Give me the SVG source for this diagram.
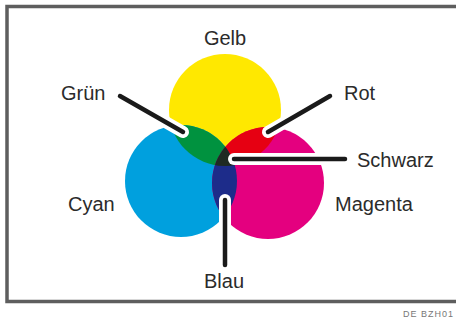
<svg xmlns="http://www.w3.org/2000/svg" width="456" height="320" viewBox="0 0 456 320">
<defs>
<style>
.lbl{font-family:"Liberation Sans",Arial,sans-serif;font-size:20px;fill:#2b2b2b}
.halo{stroke:#fff;stroke-width:12;stroke-linecap:round;fill:none}
.lead{stroke:#1a1a1a;stroke-width:4.5;stroke-linecap:round;fill:none}
</style>
<clipPath id="cY"><circle cx="225" cy="110" r="56"/></clipPath>
<clipPath id="cC"><circle cx="181" cy="181" r="56"/></clipPath>
<clipPath id="cM"><circle cx="268" cy="183" r="56"/></clipPath>
</defs>
<rect x="0" y="0" width="456" height="320" fill="#fff"/>
<rect id="frame" x="7" y="6.5" width="470" height="295" fill="none" stroke="#5e5e5e" stroke-width="3.5"/>
<g id="circles">
<circle id="gelb-circle" cx="225" cy="110" r="56" fill="#FFE800"/>
<circle id="cyan-circle" cx="181" cy="181" r="56" fill="#00A0DE"/>
<circle id="magenta-circle" cx="268" cy="183" r="56" fill="#E4007F"/>
<g clip-path="url(#cY)">
<circle id="gruen-area" cx="181" cy="181" r="56" fill="#00923F"/>
<circle id="rot-area" cx="268" cy="183" r="56" fill="#E60012"/>
</g>
<g clip-path="url(#cC)">
<circle id="blau-area" cx="268" cy="183" r="56" fill="#1D2C8A"/>
</g>
<g clip-path="url(#cC)">
<g clip-path="url(#cM)">
<circle id="schwarz-area" cx="225" cy="110" r="56" fill="#1F2A23"/>
</g>
</g>
</g>
<g id="connectors">
<line class="halo" x1="120" y1="96" x2="183" y2="132"/>
<line class="halo" x1="330" y1="96" x2="268" y2="132"/>
<line class="halo" x1="234" y1="159" x2="345" y2="159"/>
<line class="halo" x1="225" y1="200" x2="225" y2="265"/>
<line class="lead" x1="120" y1="96" x2="183" y2="132"/>
<line class="lead" x1="330" y1="96" x2="268" y2="132"/>
<line class="lead" x1="234" y1="159" x2="345" y2="159"/>
<line class="lead" x1="225" y1="200" x2="225" y2="265"/>
</g>
<g id="labels">
<text id="gelb" class="lbl" x="225" y="45" text-anchor="middle">Gelb</text>
<text id="gruen" class="lbl" x="61" y="100">Grün</text>
<text id="rot" class="lbl" x="344" y="100">Rot</text>
<text id="schwarz" class="lbl" x="357" y="167">Schwarz</text>
<text id="cyan" class="lbl" x="68" y="211">Cyan</text>
<text id="magenta" class="lbl" x="335" y="211">Magenta</text>
<text id="blau" class="lbl" x="224" y="288" text-anchor="middle">Blau</text>
</g>
<text id="code" x="403" y="317" font-family="'Liberation Sans',Arial,sans-serif" font-size="9" fill="#777" textLength="50" lengthAdjust="spacing">DE BZH01</text>
</svg>
